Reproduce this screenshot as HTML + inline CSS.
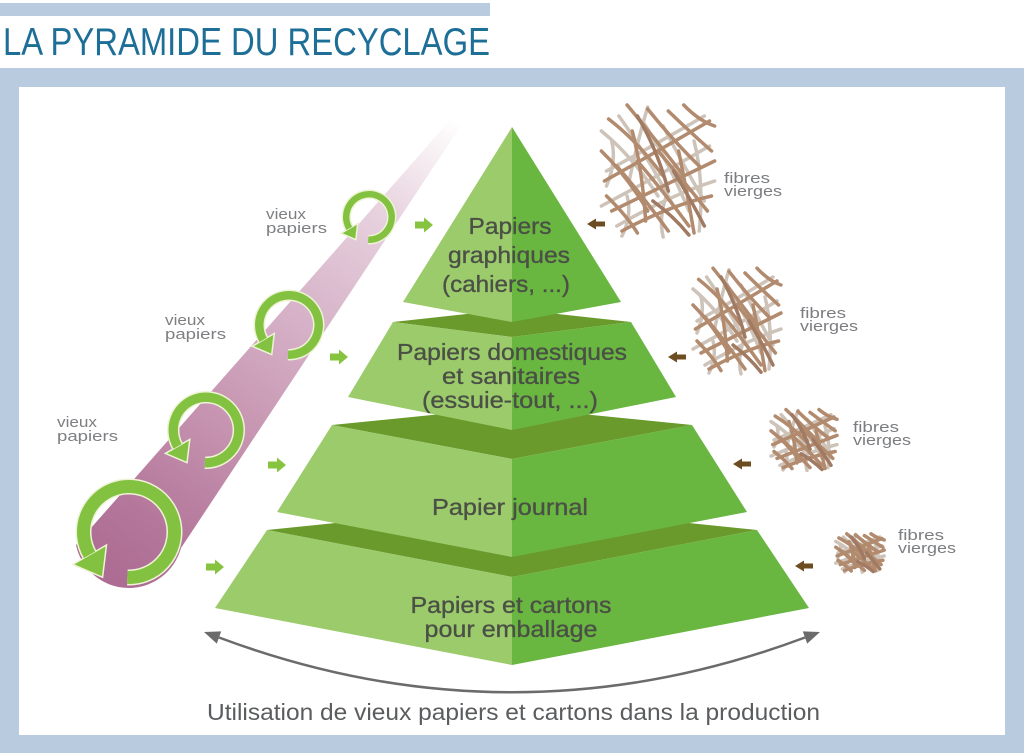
<!DOCTYPE html>
<html><head><meta charset="utf-8"><style>
html,body{margin:0;padding:0;background:#fff;}
svg{display:block;}
text{font-family:"Liberation Sans",sans-serif;}
</style></head><body>
<svg width="1024" height="753" viewBox="0 0 1024 753" xmlns="http://www.w3.org/2000/svg">
<defs>
<linearGradient id="band" gradientUnits="userSpaceOnUse" x1="457" y1="120" x2="125" y2="585">
<stop offset="0" stop-color="#ffffff"/>
<stop offset="0.08" stop-color="#f6eef2"/>
<stop offset="0.2" stop-color="#e8d3df"/>
<stop offset="0.44" stop-color="#d6b2c8"/>
<stop offset="0.66" stop-color="#c795b1"/>
<stop offset="0.88" stop-color="#b4779b"/>
<stop offset="1" stop-color="#ad6c93"/>
</linearGradient>
<g id="fib" fill="none" stroke-linecap="round" stroke-width="3.5">
<g stroke="#cdc3b9">
<path vector-effect="non-scaling-stroke" d="M-55,-40 Q-25,-15 0,25"/>
<path vector-effect="non-scaling-stroke" d="M-38,-55 Q-10,-15 15,35"/>
<path vector-effect="non-scaling-stroke" d="M-15,-50 Q10,-10 30,40"/>
<path vector-effect="non-scaling-stroke" d="M5,-45 Q25,-5 45,30"/>
<path vector-effect="non-scaling-stroke" d="M-50,0 Q-5,-25 45,-55"/>
<path vector-effect="non-scaling-stroke" d="M-55,35 Q0,5 50,-25"/>
<path vector-effect="non-scaling-stroke" d="M-40,55 Q10,25 55,10"/>
<path vector-effect="non-scaling-stroke" d="M-30,25 Q-25,45 -35,65"/>
<path vector-effect="non-scaling-stroke" d="M35,-30 Q45,10 40,60"/>
<path vector-effect="non-scaling-stroke" d="M-45,-30 Q-40,-10 -50,15"/>
<path vector-effect="non-scaling-stroke" d="M-10,-64 Q-20,-30 -28,10"/>
<path vector-effect="non-scaling-stroke" d="M10,20 Q0,45 5,66"/>
</g>
<g stroke="#b28a6e">
<path vector-effect="non-scaling-stroke" d="M-48,-52 Q-20,-30 5,5"/>
<path vector-effect="non-scaling-stroke" d="M-30,-66 Q-5,-35 25,5"/>
<path vector-effect="non-scaling-stroke" d="M-10,-62 Q15,-30 40,-5"/>
<path vector-effect="non-scaling-stroke" d="M10,-60 Q30,-40 52,-20"/>
<path vector-effect="non-scaling-stroke" d="M-55,-20 Q-30,5 -10,40"/>
<path vector-effect="non-scaling-stroke" d="M-40,-5 Q-15,25 10,60"/>
<path vector-effect="non-scaling-stroke" d="M-20,-10 Q5,20 30,55"/>
<path vector-effect="non-scaling-stroke" d="M0,-20 Q25,10 48,40"/>
<path vector-effect="non-scaling-stroke" d="M-50,25 Q-30,45 -20,62"/>
<path vector-effect="non-scaling-stroke" d="M-52,10 Q0,-20 50,-50"/>
<path vector-effect="non-scaling-stroke" d="M-45,40 Q5,15 55,-10"/>
<path vector-effect="non-scaling-stroke" d="M-35,60 Q10,35 52,25"/>
<path vector-effect="non-scaling-stroke" d="M-25,-40 Q-15,0 -12,50"/>
<path vector-effect="non-scaling-stroke" d="M20,-20 Q28,20 35,62"/>
<path vector-effect="non-scaling-stroke" d="M25,-66 Q40,-50 55,-45"/>
</g>
<g stroke="#a07a62">
<path vector-effect="non-scaling-stroke" d="M-20,-55 Q0,-20 10,20"/>
<path vector-effect="non-scaling-stroke" d="M15,0 Q30,25 45,55"/>
<path vector-effect="non-scaling-stroke" d="M-5,30 Q15,45 30,64"/>
</g>
</g>
</defs>

<!-- header -->
<rect x="0" y="3" width="490" height="13" fill="#b9cbdf"/>
<text x="3" y="55" font-size="39" fill="#1d6f97" textLength="487" lengthAdjust="spacingAndGlyphs">LA PYRAMIDE DU RECYCLAGE</text>

<!-- frame -->
<rect x="0" y="68" width="1024" height="685" fill="#b9cbdf"/>
<rect x="19" y="87" width="986" height="648" fill="#ffffff"/>

<!-- pink band -->
<path d="M452,118 L466,118 L181,548 A54,54 0 0 1 76,545 Z" fill="url(#band)"/>

<!-- recycling circles -->
<g fill="none" stroke-linecap="butt">
<path d="M368.2,239.7 A22.75,22.75 0 1 0 349.3,228.4" stroke="#eef3d6" stroke-width="9.5"/>
<path d="M287.96,354.73 A29.75,29.75 0 1 0 263.24,339.875" stroke="#eef3d6" stroke-width="11.5"/>
<path d="M204.86,462.78 A32.8,32.8 0 1 0 177.6,446.4" stroke="#eef3d6" stroke-width="12.4"/>
<path d="M127.41,577.47 A45.5,45.5 0 1 0 89.6,554.75" stroke="#eef3d6" stroke-width="16"/>
</g>
<g fill="#83c241" stroke="#eef3d6" stroke-width="1.5" stroke-linejoin="miter">
<polygon points="340.9,233.3 357.7,223.5 355.8,239.7"/>
<polygon points="252.2,346.25 274.28,333.5 271.74,354.6"/>
<polygon points="165.39,453.45 189.81,439.35 187,462.68"/>
<polygon points="72.71,564.5 106.49,545 102.6,577.27"/>
</g>
<g fill="none" stroke="#83c241" stroke-linecap="butt">
<path d="M368.2,239.7 A22.75,22.75 0 1 0 349.3,228.4" stroke-width="6.5"/>
<path d="M287.96,354.73 A29.75,29.75 0 1 0 263.24,339.875" stroke-width="8.5"/>
<path d="M204.86,462.78 A32.8,32.8 0 1 0 177.6,446.4" stroke-width="9.4"/>
<path d="M127.41,577.47 A45.5,45.5 0 1 0 89.6,554.75" stroke-width="13"/>
</g>

<!-- vieux papiers labels -->
<g font-size="15" fill="#7d7f82">
<text x="266" y="219" textLength="40" lengthAdjust="spacingAndGlyphs">vieux</text>
<text x="266" y="233" textLength="61" lengthAdjust="spacingAndGlyphs">papiers</text>
<text x="165" y="325" textLength="40" lengthAdjust="spacingAndGlyphs">vieux</text>
<text x="165" y="339" textLength="61" lengthAdjust="spacingAndGlyphs">papiers</text>
<text x="57" y="427" textLength="40" lengthAdjust="spacingAndGlyphs">vieux</text>
<text x="57" y="441" textLength="61" lengthAdjust="spacingAndGlyphs">papiers</text>
</g>

<!-- green small arrows -->
<g fill="#86c440">
<polygon transform="translate(424,225)" points="-9,-3.5 0,-3.5 0,-7.5 9,0 0,7.5 0,3.5 -9,3.5"/>
<polygon transform="translate(339,357)" points="-9,-3.5 0,-3.5 0,-7.5 9,0 0,7.5 0,3.5 -9,3.5"/>
<polygon transform="translate(277,465)" points="-9,-3.5 0,-3.5 0,-7.5 9,0 0,7.5 0,3.5 -9,3.5"/>
<polygon transform="translate(215,567)" points="-9,-3.5 0,-3.5 0,-7.5 9,0 0,7.5 0,3.5 -9,3.5"/>
</g>

<!-- pyramid tier 4 -->
<polygon points="267,530 512,505 757,530 512,577" fill="#6a9a2c"/>
<polygon points="267,530 512,577 512,665 215,608" fill="#9ccb6b"/>
<polygon points="512,577 757,530 809,608 512,665" fill="#69b640"/>
<!-- tier 3 -->
<polygon points="332,425 512,407 692,425 512,459" fill="#6a9a2c"/>
<polygon points="332,425 512,459 512,557 277,512" fill="#9ccb6b"/>
<polygon points="512,459 692,425 747,512 512,557" fill="#69b640"/>
<!-- tier 2 -->
<polygon points="393,322 512,309 631,322 512,337" fill="#6a9a2c"/>
<polygon points="393,322 512,337 512,430 348,397" fill="#9ccb6b"/>
<polygon points="512,337 631,322 676,397 512,430" fill="#69b640"/>
<!-- tier 1 -->
<polygon points="512,127 512,322 403,302" fill="#9ccb6b"/>
<polygon points="512,127 621,302 512,322" fill="#69b640"/>

<!-- pyramid text -->
<g font-size="23" fill="#4b5046" stroke="#4b5046" stroke-width="0.35" text-anchor="middle">
<text x="510" y="234" textLength="83" lengthAdjust="spacingAndGlyphs">Papiers</text>
<text x="509" y="263" textLength="122" lengthAdjust="spacingAndGlyphs">graphiques</text>
<text x="506" y="292" textLength="128" lengthAdjust="spacingAndGlyphs">(cahiers, ...)</text>
<text x="512" y="360" textLength="230" lengthAdjust="spacingAndGlyphs">Papiers domestiques</text>
<text x="511" y="384" textLength="138" lengthAdjust="spacingAndGlyphs">et sanitaires</text>
<text x="510" y="408" textLength="176" lengthAdjust="spacingAndGlyphs">(essuie-tout, ...)</text>
<text x="510" y="515" textLength="156" lengthAdjust="spacingAndGlyphs">Papier journal</text>
<text x="511" y="613" textLength="201" lengthAdjust="spacingAndGlyphs">Papiers et cartons</text>
<text x="511" y="637" textLength="173" lengthAdjust="spacingAndGlyphs">pour emballage</text>
</g>

<!-- brown arrows -->
<g fill="#6c4d22">
<polygon transform="translate(596,224)" points="9,-2.5 0,-2.5 0,-5.5 -9,0 0,5.5 0,2.5 9,2.5"/>
<polygon transform="translate(677,357)" points="9,-2.5 0,-2.5 0,-5.5 -9,0 0,5.5 0,2.5 9,2.5"/>
<polygon transform="translate(742,464)" points="9,-2.5 0,-2.5 0,-5.5 -9,0 0,5.5 0,2.5 9,2.5"/>
<polygon transform="translate(804,566)" points="9,-2.5 0,-2.5 0,-5.5 -9,0 0,5.5 0,2.5 9,2.5"/>
</g>

<!-- fibres -->
<use href="#fib" transform="translate(658,171) scale(1.03,1)"/>
<use href="#fib" transform="translate(737,321) scale(0.8,0.8)"/>
<use href="#fib" transform="translate(804,440) scale(0.6,0.46)"/>
<use href="#fib" transform="translate(860,553) scale(0.44,0.29)"/>

<g font-size="15" fill="#7b7d80">
<text x="724" y="183" textLength="46" lengthAdjust="spacingAndGlyphs">fibres</text>
<text x="724" y="196" textLength="58" lengthAdjust="spacingAndGlyphs">vierges</text>
<text x="800" y="318" textLength="46" lengthAdjust="spacingAndGlyphs">fibres</text>
<text x="800" y="331" textLength="58" lengthAdjust="spacingAndGlyphs">vierges</text>
<text x="853" y="432" textLength="46" lengthAdjust="spacingAndGlyphs">fibres</text>
<text x="853" y="445" textLength="58" lengthAdjust="spacingAndGlyphs">vierges</text>
<text x="898" y="540" textLength="46" lengthAdjust="spacingAndGlyphs">fibres</text>
<text x="898" y="553" textLength="58" lengthAdjust="spacingAndGlyphs">vierges</text>
</g>

<!-- curved double arrow -->
<path d="M219,637.5 Q512,747 805,637.5" fill="none" stroke="#6b6b6b" stroke-width="2.5"/>
<polygon points="204,632 216.8,643.6 221.2,631.4" fill="#6b6b6b"/>
<polygon points="820,632 807.2,643.6 802.8,631.4" fill="#6b6b6b"/>

<text x="207" y="720" font-size="23" fill="#5a5c5e" textLength="613" lengthAdjust="spacingAndGlyphs">Utilisation de vieux papiers et cartons dans la production</text>
</svg>
</body></html>
